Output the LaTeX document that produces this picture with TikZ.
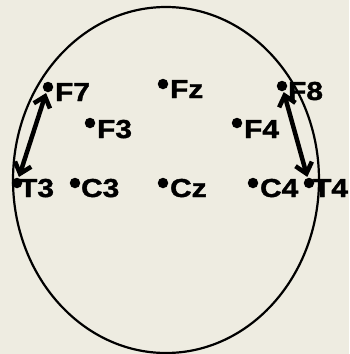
\documentclass[tikz,border=0pt]{standalone}
\usepackage{fontspec}
\setmainfont{Liberation Sans}[FakeStretch=1.15,FakeBold=1.5]
\usetikzlibrary{arrows.meta}
\definecolor{paper}{HTML}{EEECE1}

\begin{document}
\begin{tikzpicture}[x=1pt,y=-1pt,line width=2.2pt,>={Straight Barb[length=10pt,width=17pt]},
  dot/.style={circle,fill=black,inner sep=0pt,minimum size=10.5pt},
  lab/.style={anchor=base west,inner sep=0pt,font=\bfseries\fontsize{26}{26}\selectfont}]
% background
\fill[paper] (0,0) rectangle (349,354);
\useasboundingbox (0,0) rectangle (349,354);
% head outline
\draw (166,180) ellipse [x radius=153, y radius=173];
% ---------- frontal row ----------
\node[dot] (f7) at (48,87) {};
\node[lab] (f7txt) at (54,101) {F7};
\node[dot] (fz) at (163,84) {};
\node[lab] (fztxt) at (169,98) {Fz};
\node[dot] (f8) at (282,86) {};
\node[lab] (f8txt) at (287,100) {F8};
\node[dot] (f3) at (90,123) {};
\node[lab] (f3txt) at (96,138) {F3};
\node[dot] (f4) at (237,123) {};
\node[lab] (f4txt) at (243,138) {F4};
% ---------- central row ----------
\node[dot] (t3) at (17,183) {};
\node[lab] (t3txt) at (18,197) {T3};
\node[dot] (c3) at (75,183) {};
\node[lab] (c3txt) at (80,197) {C3};
\node[dot] (cz) at (163,183) {};
\node[lab] (cztxt) at (169,197) {Cz};
\node[dot] (c4) at (253,183) {};
\node[lab] (c4txt) at (259,197) {C4};
\node[dot] (t4) at (309,183) {};
\node[lab] (t4txt) at (312,197) {T4};
% temporal chain arrows
\draw[<->,line width=4.5pt] (f7) -- (t3);
\draw[<->,line width=4.5pt] (f8) -- (t4);
\end{tikzpicture}
\end{document}
